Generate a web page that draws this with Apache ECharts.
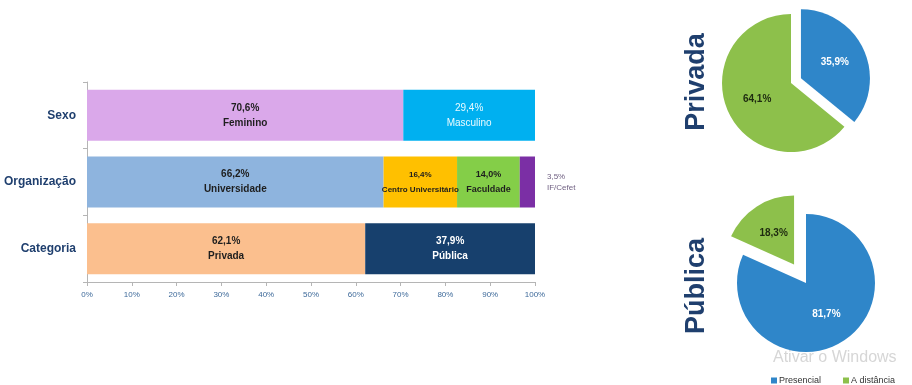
<!DOCTYPE html>
<html>
<head>
<meta charset="utf-8">
<script src="https://cdn.jsdelivr.net/npm/echarts@6/dist/echarts.min.js"></script>
<style>
html,body{margin:0;padding:0;background:#fff;}
#chart{width:912px;height:385px;}
</style>
</head>
<body>
<div id="chart"></div>
<script>
// ---- data ----
const categories = ['Sexo', 'Organização', 'Categoria'];
const sexoNames = ['Feminino', 'Masculino'];
const sexoValues = [70.6, 29.4];
const orgNames = ['Universidade', 'Centro Universitário', 'Faculdade', 'IF/Cefet'];
const orgValues = [66.2, 16.4, 14.0, 3.5];
const catNames = ['Privada', 'Pública'];
const catValues = [62.1, 37.9];
const pieNames = ['Presencial', 'A distância'];
const privadaValues = [35.9, 64.1];
const publicaValues = [81.7, 18.3];
const xTickStep = 10;

// ---- styles ----
const segColors = {
  'Feminino': '#DAA8EA', 'Masculino': '#00B0F0',
  'Universidade': '#8EB4DE', 'Centro Universitário': '#FFC000', 'Faculdade': '#84CE48', 'IF/Cefet': '#7B2FA5',
  'Privada': '#FBBF8E', 'Pública': '#17406D'
};
const segLabelColor = {
  'Masculino': '#E8FAFF', 'Pública': '#FFFFFF'
};
const segFontSize = { 'Centro Universitário': 8, 'Faculdade': 9, 'IF/Cefet': 8 };
const segFontWeight = { 'Masculino': 'normal', 'IF/Cefet': 'normal' };
const pieColors = ['#2F86C9', '#8DC04B'];

function fmt(v) { return v.toFixed(1).replace('.', ',') + '%'; }

const series = [];
function addRow(rowIdx, names, values) {
  names.forEach((n, i) => {
    const data = categories.map((c, k) => k === rowIdx ? values[i] : null);
    const isOutside = n === 'IF/Cefet';
    series.push({
      type: 'bar', name: n, stack: 'total', barWidth: 51,
      itemStyle: { color: segColors[n] },
      data: data,
      label: {
        show: true,
        position: isOutside ? 'right' : 'inside',
        distance: 12,
        formatter: p => fmt(p.value) + '\n' + n,
        fontFamily: 'Liberation Sans, Arial, sans-serif',
        fontWeight: segFontWeight[n] || 'bold',
        fontSize: segFontSize[n] || 10,
        lineHeight: isOutside ? 11 : 15,
        color: isOutside ? '#6E5E80' : (segLabelColor[n] || '#1E1E1E')
      }
    });
  });
}
addRow(0, sexoNames, sexoValues);
addRow(1, orgNames, orgValues);
addRow(2, catNames, catValues);

function pieSeries(values, center, offset, selIdx) {
  return {
    type: 'pie', center: center, radius: 69, startAngle: 90, clockwise: true,
    selectedMode: 'multiple', selectedOffset: offset,
    animation: false,
    label: {
      show: true, position: 'inside',
      formatter: p => fmt(p.value),
      fontFamily: 'Liberation Sans, Arial, sans-serif',
      fontWeight: 'bold', fontSize: 10
    },
    labelLine: { show: false },
    emphasis: { disabled: true },
    data: pieNames.map((n, i) => ({
      name: n, value: values[i], selected: i === selIdx,
      itemStyle: { color: pieColors[i] },
      label: { color: i === 0 ? '#FFFFFF' : '#1E2A10' }
    }))
  };
}
series.push(pieSeries(privadaValues, [791, 83], 11, 0));
series.push(pieSeries(publicaValues, [806, 283], 22, 1));

const chart = echarts.init(document.getElementById('chart'), null, { renderer: 'canvas' });
chart.setOption({
  animation: false,
  backgroundColor: '#FFFFFF',
  grid: { left: 87, top: 82, width: 448, height: 200, containLabel: false },
  xAxis: {
    type: 'value', min: 0, max: 100, interval: xTickStep,
    splitLine: { show: false },
    axisLine: { show: true, lineStyle: { color: '#B5B5B5' } },
    axisTick: { show: true, length: 4, lineStyle: { color: '#B5B5B5' } },
    axisLabel: {
      formatter: v => v + '%', fontSize: 8, color: '#3E6A9A', margin: 9,
      fontFamily: 'Liberation Sans, Arial, sans-serif'
    }
  },
  yAxis: {
    type: 'category', data: categories, inverse: true,
    axisLine: { show: true, lineStyle: { color: '#B5B5B5' } },
    axisTick: { show: true, length: 4, lineStyle: { color: '#B5B5B5' } },
    axisLabel: {
      fontSize: 12, fontWeight: 'bold', color: '#1F3F6E', margin: 11,
      fontFamily: 'Liberation Sans, Arial, sans-serif'
    }
  },
  legend: {
    data: pieNames, left: 766, top: 371, itemWidth: 6, itemHeight: 6, itemGap: 22,
    icon: 'rect', selectedMode: false,
    textStyle: { fontSize: 9, color: '#333', fontFamily: 'Liberation Sans, Arial, sans-serif', padding: [0, 0, 0, -3] }
  },
  graphic: [
    {
      type: 'text', x: 697, y: 82, rotation: Math.PI / 2,
      style: {
        text: 'Privada', fontSize: 27, fontWeight: 'bold', fill: '#1F3F6E',
        fontFamily: 'Liberation Sans, Arial, sans-serif', align: 'center', verticalAlign: 'middle'
      }
    },
    {
      type: 'text', x: 697, y: 286, rotation: Math.PI / 2,
      style: {
        text: 'Pública', fontSize: 27, fontWeight: 'bold', fill: '#1F3F6E',
        fontFamily: 'Liberation Sans, Arial, sans-serif', align: 'center', verticalAlign: 'middle'
      }
    },
    {
      type: 'text', x: 773, y: 350, z: -1,
      style: {
        text: 'Ativar o Windows', fontSize: 16, fill: '#D6D6D6',
        fontFamily: 'Liberation Sans, Arial, sans-serif'
      }
    }
  ],
  series: series
});
</script>
</body>
</html>
